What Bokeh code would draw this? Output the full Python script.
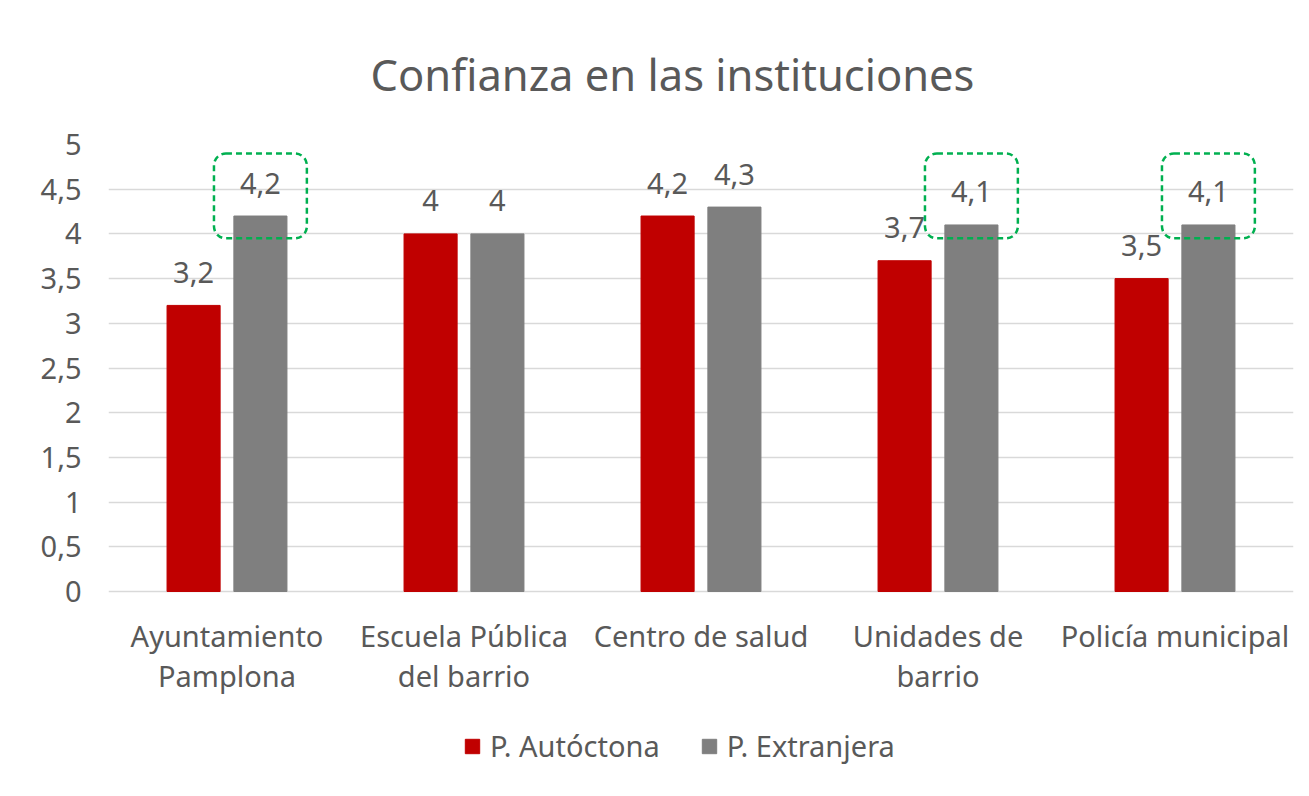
from bokeh.plotting import figure
from bokeh.models import (ColumnDataSource, FixedTicker, Legend, LegendItem,
                          BoxAnnotation, Range1d)
from bokeh.transform import dodge
from bokeh.core.properties import value
from bokeh.embed import file_html
from bokeh.resources import INLINE

# ---------------- data ----------------
categories = ["Ayuntamiento\nPamplona", "Escuela Pública\ndel barrio",
              "Centro de salud", "Unidades de\nbarrio", "Policía municipal"]
autoctona = [3.2, 4.0, 4.2, 3.7, 3.5]
extranjera = [4.2, 4.0, 4.3, 4.1, 4.1]
series_names = ["P. Autóctona", "P. Extranjera"]
y_ticks = [0, 0.5, 1, 1.5, 2, 2.5, 3, 3.5, 4, 4.5, 5]
y_tick_labels = ["0", "0,5", "1", "1,5", "2", "2,5", "3", "3,5", "4", "4,5", "5"]
highlighted = [0, 3, 4]   # categories whose "P. Extranjera" label is boxed

# ---------------- styles ----------------
RED = "#C00000"
GRAY = "#7F7F7F"
TXT = "#595959"
GRID = "#D9D9D9"
FONT = "Noto Sans"
FS = "29px"
OFF = 0.141
BW = 0.224
W, H = 1309, 796
LEFT, RIGHT, TOP, AXIS_Y = 108, 1293, 144, 591
Y_MIN = -(H - AXIS_Y) / ((AXIS_Y - TOP) / 5.0)   # room below 0 for labels & legend


def fmt(v):
    return ("%g" % v).replace(".", ",")


xs = list(range(len(categories)))
src = ColumnDataSource(dict(
    x=xs, a=autoctona, e=extranjera, zero=[0] * len(xs), cat=categories,
    a_lbl=[fmt(v) for v in autoctona], e_lbl=[fmt(v) for v in extranjera]))

p = figure(width=W, height=H, output_backend="svg", toolbar_location=None,
           x_range=Range1d(-0.5, len(categories) - 0.5), y_range=Range1d(Y_MIN, 5),
           x_axis_location=None,
           min_border_left=LEFT, min_border_right=W - RIGHT, min_border_top=TOP,
           min_border_bottom=0)
p.outline_line_color = None
p.background_fill_color = "white"
p.border_fill_color = "white"

# title
p.title.text = "Confianza en las instituciones"
p.title.align = "left"
p.title.offset = 262
p.title.standoff = 82
p.title.text_font = FONT
p.title.text_font_size = "43.5px"
p.title.text_font_style = "normal"
p.title.text_color = TXT

r_a = p.vbar(x=dodge("x", -OFF), top="a", width=BW, source=src, color=RED)
r_e = p.vbar(x=dodge("x", OFF), top="e", width=BW, source=src, color=GRAY)

for col, ycol, off in (("a_lbl", "a", -OFF), ("e_lbl", "e", OFF)):
    p.text(x=dodge("x", off), y=ycol, text=col, source=src,
           text_align="center", text_baseline="middle", y_offset=-33,
           text_font=value(FONT), text_font_size=FS, text_color=TXT)

# category labels under the baseline
p.text(x="x", y="zero", text="cat", source=src, text_align="center",
       text_baseline="top", y_offset=24, text_line_height=1.04,
       text_font=value(FONT), text_font_size=FS, text_color=TXT)

# highlighted boxes
for i in highlighted:
    p.add_layout(BoxAnnotation(left=i + OFF - 0.196, right=i + OFF + 0.196,
                               bottom=3.95, top=4.9, fill_color=None,
                               line_color="#00B050", line_alpha=1.0,
                               line_width=2.5, line_dash="6 4",
                               border_radius=12))

# y axis
p.yaxis.ticker = FixedTicker(ticks=y_ticks)
p.yaxis.major_label_overrides = {t: l for t, l in zip(y_ticks, y_tick_labels)}
p.yaxis.axis_line_color = None
p.yaxis.major_tick_line_color = None
p.yaxis.minor_tick_line_color = None
p.yaxis.major_label_standoff = 21
p.yaxis.major_label_text_font = FONT
p.yaxis.major_label_text_font_size = FS
p.yaxis.major_label_text_color = TXT

p.xgrid.grid_line_color = None
p.ygrid.grid_line_color = GRID
p.ygrid.grid_line_width = 1.5
p.ygrid.ticker = FixedTicker(ticks=y_ticks)

legend = Legend(items=[LegendItem(label=series_names[0], renderers=[r_a]),
                       LegendItem(label=series_names[1], renderers=[r_e])],
                orientation="horizontal", location=(355, 31),
                label_text_font=FONT, label_text_font_size=FS,
                label_text_color=TXT, glyph_width=18, glyph_height=18,
                label_height=34, label_standoff=9, spacing=40,
                border_line_color=None, background_fill_alpha=0,
                margin=0, padding=0)
p.add_layout(legend, "center")

open("out.html", "w").write(file_html(p, INLINE))
